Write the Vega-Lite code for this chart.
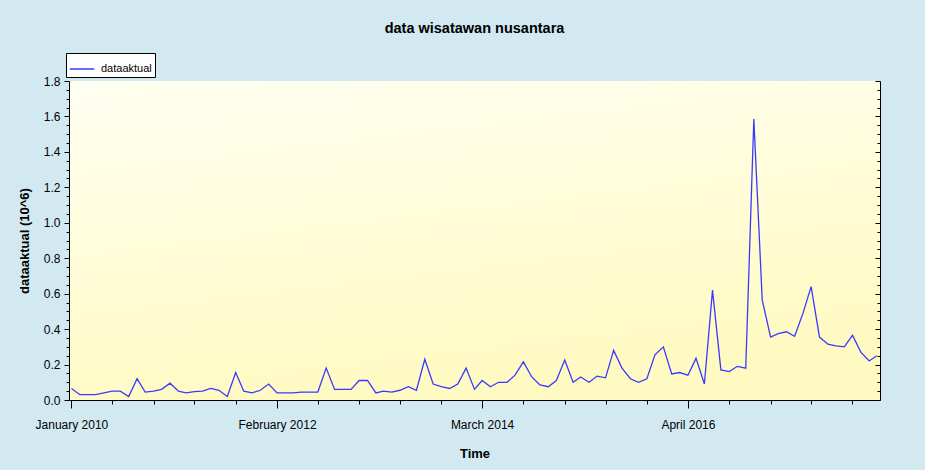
{
  "$schema": "https://vega.github.io/schema/vega-lite/v6.json",
  "width": 811,
  "height": 319,
  "autosize": "none",
  "padding": {"left": 69, "top": 81, "right": 45, "bottom": 70},
  "background": "#d2e9f1",
  "title": {"text": "data wisatawan nusantara", "fontSize": 14.5, "fontWeight": "bold", "font": "Liberation Sans", "anchor": "middle", "color": "#000", "offset": 16},
  "config": {
    "view": {"stroke": null, "fill": {"gradient": "linear", "x1": 0, "y1": 0, "x2": 0.3, "y2": 1, "stops": [{"offset": 0, "color": "#fffff2"}, {"offset": 1, "color": "#fffac2"}]}},
    "axis": {"labelFont": "Liberation Sans", "titleFont": "Liberation Sans", "labelColor": "#000", "titleColor": "#000", "domainColor": "#000", "tickColor": "#000", "grid": false, "labelFontSize": 12, "titleFontSize": 13, "titleFontWeight": "bold"}
  },
  "data": {"values": [
    {"date": "2010/01/01", "value": 0.065},
    {"date": "2010/02/01", "value": 0.03},
    {"date": "2010/03/01", "value": 0.03},
    {"date": "2010/04/01", "value": 0.03},
    {"date": "2010/05/01", "value": 0.04},
    {"date": "2010/06/01", "value": 0.05},
    {"date": "2010/07/01", "value": 0.05},
    {"date": "2010/08/01", "value": 0.02},
    {"date": "2010/09/01", "value": 0.12},
    {"date": "2010/10/01", "value": 0.045},
    {"date": "2010/11/01", "value": 0.05},
    {"date": "2010/12/01", "value": 0.06},
    {"date": "2011/01/01", "value": 0.095},
    {"date": "2011/02/01", "value": 0.05},
    {"date": "2011/03/01", "value": 0.04},
    {"date": "2011/04/01", "value": 0.047},
    {"date": "2011/05/01", "value": 0.05},
    {"date": "2011/06/01", "value": 0.065},
    {"date": "2011/07/01", "value": 0.055},
    {"date": "2011/08/01", "value": 0.02},
    {"date": "2011/09/01", "value": 0.155},
    {"date": "2011/10/01", "value": 0.05},
    {"date": "2011/11/01", "value": 0.04},
    {"date": "2011/12/01", "value": 0.055},
    {"date": "2012/01/01", "value": 0.09},
    {"date": "2012/02/01", "value": 0.04},
    {"date": "2012/03/01", "value": 0.04},
    {"date": "2012/04/01", "value": 0.04},
    {"date": "2012/05/01", "value": 0.045},
    {"date": "2012/06/01", "value": 0.045},
    {"date": "2012/07/01", "value": 0.045},
    {"date": "2012/08/01", "value": 0.18},
    {"date": "2012/09/01", "value": 0.06},
    {"date": "2012/10/01", "value": 0.06},
    {"date": "2012/11/01", "value": 0.06},
    {"date": "2012/12/01", "value": 0.11},
    {"date": "2013/01/01", "value": 0.11},
    {"date": "2013/02/01", "value": 0.04},
    {"date": "2013/03/01", "value": 0.05},
    {"date": "2013/04/01", "value": 0.045},
    {"date": "2013/05/01", "value": 0.055},
    {"date": "2013/06/01", "value": 0.075},
    {"date": "2013/07/01", "value": 0.055},
    {"date": "2013/08/01", "value": 0.23},
    {"date": "2013/09/01", "value": 0.09},
    {"date": "2013/10/01", "value": 0.075},
    {"date": "2013/11/01", "value": 0.065},
    {"date": "2013/12/01", "value": 0.09},
    {"date": "2014/01/01", "value": 0.18},
    {"date": "2014/02/01", "value": 0.06},
    {"date": "2014/03/01", "value": 0.11},
    {"date": "2014/04/01", "value": 0.075},
    {"date": "2014/05/01", "value": 0.1},
    {"date": "2014/06/01", "value": 0.1},
    {"date": "2014/07/01", "value": 0.14},
    {"date": "2014/08/01", "value": 0.215},
    {"date": "2014/09/01", "value": 0.13},
    {"date": "2014/10/01", "value": 0.085},
    {"date": "2014/11/01", "value": 0.075},
    {"date": "2014/12/01", "value": 0.11},
    {"date": "2015/01/01", "value": 0.225},
    {"date": "2015/02/01", "value": 0.1},
    {"date": "2015/03/01", "value": 0.13},
    {"date": "2015/04/01", "value": 0.1},
    {"date": "2015/05/01", "value": 0.135},
    {"date": "2015/06/01", "value": 0.125},
    {"date": "2015/07/01", "value": 0.28},
    {"date": "2015/08/01", "value": 0.18},
    {"date": "2015/09/01", "value": 0.12},
    {"date": "2015/10/01", "value": 0.1},
    {"date": "2015/11/01", "value": 0.12},
    {"date": "2015/12/01", "value": 0.255},
    {"date": "2016/01/01", "value": 0.3},
    {"date": "2016/02/01", "value": 0.147},
    {"date": "2016/03/01", "value": 0.155},
    {"date": "2016/04/01", "value": 0.14},
    {"date": "2016/05/01", "value": 0.235},
    {"date": "2016/06/01", "value": 0.09},
    {"date": "2016/07/01", "value": 0.62},
    {"date": "2016/08/01", "value": 0.17},
    {"date": "2016/09/01", "value": 0.16},
    {"date": "2016/10/01", "value": 0.19},
    {"date": "2016/11/01", "value": 0.18},
    {"date": "2016/12/01", "value": 1.585},
    {"date": "2017/01/01", "value": 0.565},
    {"date": "2017/02/01", "value": 0.355},
    {"date": "2017/03/01", "value": 0.375},
    {"date": "2017/04/01", "value": 0.385},
    {"date": "2017/05/01", "value": 0.36},
    {"date": "2017/06/01", "value": 0.49},
    {"date": "2017/07/01", "value": 0.64},
    {"date": "2017/08/01", "value": 0.355},
    {"date": "2017/09/01", "value": 0.315},
    {"date": "2017/10/01", "value": 0.305},
    {"date": "2017/11/01", "value": 0.3},
    {"date": "2017/12/01", "value": 0.365},
    {"date": "2018/01/01", "value": 0.27},
    {"date": "2018/02/01", "value": 0.22},
    {"date": "2018/03/01", "value": 0.25}
  ]},
  "transform": [{"calculate": "'dataaktual'", "as": "series"}],
  "layer": [
    {
      "mark": {"type": "line", "strokeWidth": 1.3},
      "encoding": {
        "x": {
          "field": "date", "type": "temporal", "title": "Time",
          "scale": {"domain": [{"year": 2009, "month": 12, "date": 23}, {"year": 2018, "month": 3, "date": 13}], "nice": false},
          "axis": {
            "values": [
              {"year": 2010, "month": 1, "date": 1}, {"year": 2010, "month": 3, "date": 16}, {"year": 2010, "month": 6, "date": 1}, {"year": 2010, "month": 8, "date": 16}, {"year": 2010, "month": 11, "date": 1},
              {"year": 2011, "month": 1, "date": 16}, {"year": 2011, "month": 4, "date": 1}, {"year": 2011, "month": 6, "date": 16}, {"year": 2011, "month": 9, "date": 1}, {"year": 2011, "month": 11, "date": 16},
              {"year": 2012, "month": 2, "date": 1}, {"year": 2012, "month": 4, "date": 16}, {"year": 2012, "month": 7, "date": 1}, {"year": 2012, "month": 9, "date": 16}, {"year": 2012, "month": 12, "date": 1},
              {"year": 2013, "month": 2, "date": 16}, {"year": 2013, "month": 5, "date": 1}, {"year": 2013, "month": 7, "date": 16}, {"year": 2013, "month": 10, "date": 1}, {"year": 2013, "month": 12, "date": 16},
              {"year": 2014, "month": 3, "date": 1}, {"year": 2014, "month": 5, "date": 16}, {"year": 2014, "month": 8, "date": 1}, {"year": 2014, "month": 10, "date": 16}, {"year": 2015, "month": 1, "date": 1},
              {"year": 2015, "month": 3, "date": 16}, {"year": 2015, "month": 6, "date": 1}, {"year": 2015, "month": 8, "date": 16}, {"year": 2015, "month": 11, "date": 1}, {"year": 2016, "month": 1, "date": 16},
              {"year": 2016, "month": 4, "date": 1}, {"year": 2016, "month": 6, "date": 16}, {"year": 2016, "month": 9, "date": 1}, {"year": 2016, "month": 11, "date": 16}, {"year": 2017, "month": 2, "date": 1},
              {"year": 2017, "month": 4, "date": 16}, {"year": 2017, "month": 7, "date": 1}, {"year": 2017, "month": 9, "date": 16}, {"year": 2017, "month": 12, "date": 1}, {"year": 2018, "month": 2, "date": 16}
            ],
            "labelExpr": "(date(datum.value) == 1 && month(datum.value) == year(datum.value) / 2 - 1005) ? timeFormat(datum.value, '%B %Y') : ''",
            "tickSize": {"condition": {"test": "date(datum.value) == 1 && month(datum.value) == year(datum.value) / 2 - 1005", "value": 8}, "value": 4},
            "labelPadding": 11,
            "titlePadding": 17,
            "labelFlush": false,
            "labelOverlap": false
          }
        },
        "y": {
          "field": "value", "type": "quantitative", "title": "dataaktual (10^6)",
          "scale": {"domain": [0, 1.8], "nice": false, "zero": true},
          "axis": {
            "orient": "left",
            "values": [0, 0.05, 0.1, 0.15, 0.2, 0.25, 0.3, 0.35, 0.4, 0.45, 0.5, 0.55, 0.6, 0.65, 0.7, 0.75, 0.8, 0.85, 0.9, 0.95, 1.0, 1.05, 1.1, 1.15, 1.2, 1.25, 1.3, 1.35, 1.4, 1.45, 1.5, 1.55, 1.6, 1.65, 1.7, 1.75, 1.8],
            "labelExpr": "abs(datum.value * 5 - round(datum.value * 5)) < 0.001 ? format(datum.value, '.1f') : ''",
            "tickSize": {"condition": {"test": "abs(datum.value * 5 - round(datum.value * 5)) < 0.001", "value": 5}, "value": 3},
            "labelPadding": 4,
            "titlePadding": 12,
            "labelOverlap": false,
            "labelFlush": false
          }
        },
        "color": {
          "field": "series", "type": "nominal",
          "scale": {"range": ["#3a3aff"]},
          "legend": {
            "orient": "none", "legendX": -3, "legendY": -28, "title": null,
            "symbolType": "stroke", "symbolSize": 600, "symbolStrokeWidth": 1.5,
            "strokeColor": "#000", "fillColor": "#fff", "padding": 3,
            "labelFont": "Liberation Sans", "labelFontSize": 11, "labelColor": "#000", "labelOffset": 6
          }
        }
      }
    },
    {
      "mark": {"type": "line", "strokeOpacity": 0},
      "encoding": {
        "x": {"field": "date", "type": "temporal"},
        "y": {
          "field": "value", "type": "quantitative",
          "axis": {
            "orient": "right", "title": null, "labels": false,
            "values": [0, 0.05, 0.1, 0.15, 0.2, 0.25, 0.3, 0.35, 0.4, 0.45, 0.5, 0.55, 0.6, 0.65, 0.7, 0.75, 0.8, 0.85, 0.9, 0.95, 1.0, 1.05, 1.1, 1.15, 1.2, 1.25, 1.3, 1.35, 1.4, 1.45, 1.5, 1.55, 1.6, 1.65, 1.7, 1.75, 1.8],
            "tickSize": {"condition": {"test": "abs(datum.value * 5 - round(datum.value * 5)) < 0.001", "value": -5}, "value": -3}
          }
        }
      }
    }
  ],
  "resolve": {"axis": {"y": "independent"}}
}
